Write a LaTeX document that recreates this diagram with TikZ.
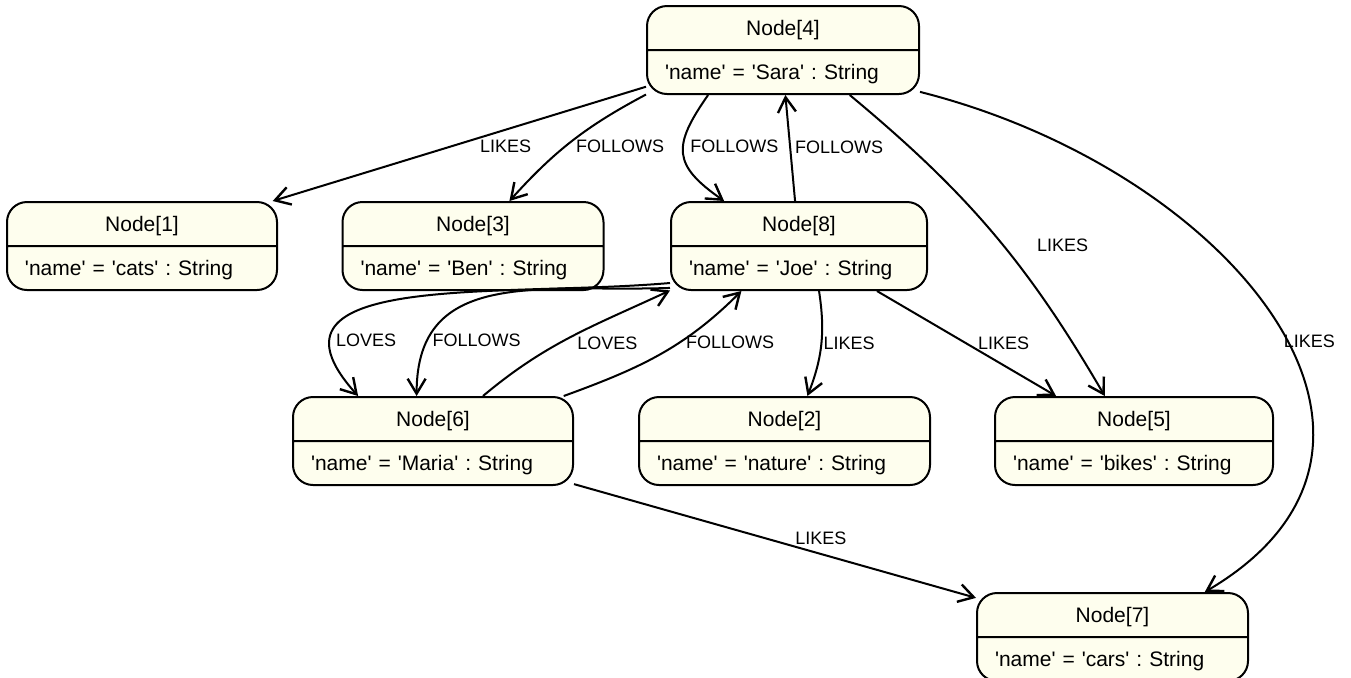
\documentclass[tikz,border=0pt]{standalone}
\usepackage{fontspec}
\newfontfamily\graphfont{Liberation Sans}
\usetikzlibrary{shapes.multipart,arrows.meta}
\definecolor{nodefill}{RGB}{254,254,238}
\newcommand{\rowstrut}{\rule[-2.8pt]{0pt}{12.6pt}}
\newcommand{\entitytext}[2]{\hbox to\hsize{\hss\rowstrut Node[#1]\hss}\nodepart{two}\rowstrut'name' = '#2' : String}
\tikzset{entity/.style={rectangle split,rectangle split parts=2,draw,fill=nodefill,line width=1pt,rounded corners=10pt,text width=#1,align=left,inner xsep=9pt,inner ysep=4.2pt,font=\graphfont\frenchspacing\fontsize{10.5}{12.6}\selectfont},
 rel/.style={draw,line width=1pt,-{Straight Barb[length=7.5pt,width=9pt,line width=1.2pt]}},
 rellabel/.style={font=\graphfont\fontsize{9}{11}\selectfont,inner sep=0pt}}

\begin{document}
\begin{tikzpicture}[x=.5pt,y=-.5pt]
\useasboundingbox (0,0) rectangle (1351,677);
\node[entity=118pt] (n4) at (783,50) {\entitytext{4}{Sara}};
\node[entity=117pt] (n1) at (142,246) {\entitytext{1}{cats}};
\node[entity=112.5pt] (n3) at (473,246) {\entitytext{3}{Ben}};
\node[entity=110pt] (n8) at (799,246) {\entitytext{8}{Joe}};
\node[entity=122pt] (n6) at (433,441) {\entitytext{6}{Maria}};
\node[entity=127.5pt] (n2) at (784.5,441) {\entitytext{2}{nature}};
\node[entity=121pt] (n5) at (1134,441) {\entitytext{5}{bikes}};
\node[entity=117.5pt] (n7) at (1112.5,637) {\entitytext{7}{cars}};

\draw[rel] (n4.195) -- node[rellabel,pos=.376,shift={(0,16.5)}] {LIKES} (n1.19);
\draw[rel] (n4.198) to[bend right=10] node[rellabel,pos=.55,shift={(54,1)}] {FOLLOWS} (n3.51);
\draw[rel] (n4.211) to[out=-125,in=145,looseness=1.5] node[rellabel,pos=.5,shift={(51,-7)}] {FOLLOWS} (n8.149);
\draw[rel] (n8.95) -- node[rellabel,pos=.51,shift={(49,0)}] {FOLLOWS} (n4.273);
\draw[rel] (n4.326) to[bend left=10] node[rellabel,pos=.5,shift={(70,13)}] {LIKES} (n5.123);
\draw[rel] (n4.343) .. controls (1230,170) and (1455,445) .. node[rellabel,pos=.55,shift={(20,-4)}] {LIKES} (n7.26);
\draw[rel] (n8.196) to[out=185,in=132,looseness=1.3] node[rellabel,pos=.8,shift={(35,3)}] {LOVES} (n6.149);
\draw[rel] (n8.198) to[out=182,in=90,looseness=1.2] node[rellabel,pos=.8,shift={(46,5)}] {FOLLOWS} (n6.110);
\draw[rel] (n6.42) to[out=40,in=205] node[rellabel,pos=.45,shift={(44,2)}] {LOVES} (n8.199);
\draw[rel] (n6.19) to[out=20,in=-135] node[rellabel,pos=.6,shift={(54,-2)}] {FOLLOWS} (n8.218);
\draw[rel] (n8.294) to[bend left=15] node[rellabel,pos=.5,shift={(28,-1)}] {LIKES} (n2.63);
\draw[rel] (n8.330) -- node[rellabel,pos=.495,shift={(38,0)}] {LIKES} (n5.150);
\draw[rel] (n6.343) -- node[rellabel,pos=.614,shift={(0,-16)}] {LIKES} (n7.164);
\end{tikzpicture}
\end{document}
